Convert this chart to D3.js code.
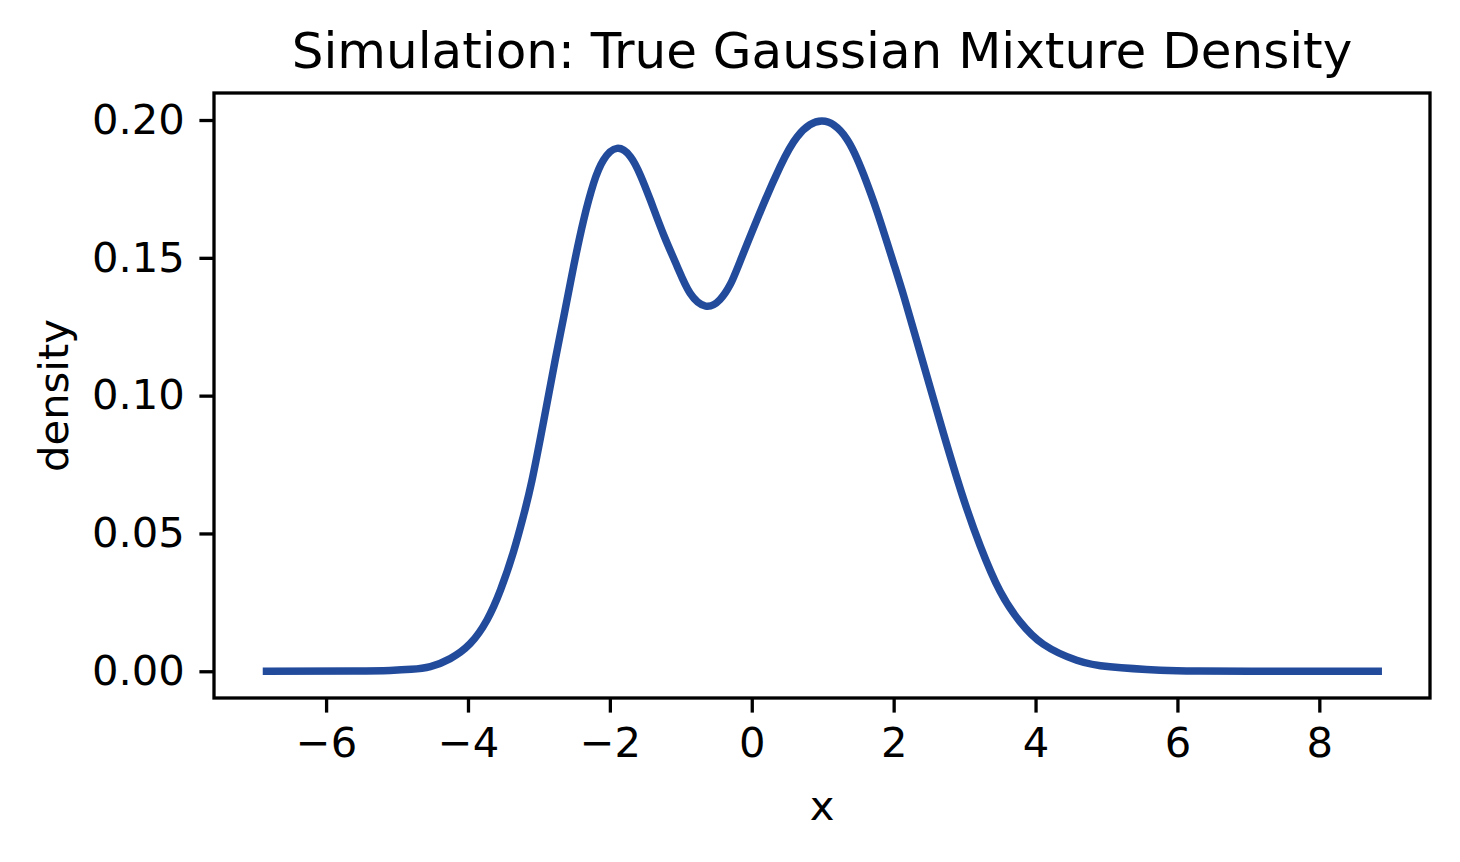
<!DOCTYPE html>
<html>
<head>
<meta charset="utf-8">
<script src="https://cdn.jsdelivr.net/npm/d3@7"></script>
<style>
  body { margin: 0; background: #fff; }
  text { font-family: "DejaVu Sans", sans-serif; fill: #000; }
</style>
</head>
<body>
<div id="chart"></div>
<script>
// ==== DATA ====
const X_VALS = [-6.84, -5.60, -5.10, -4.80, -4.53, -4.25, -3.97, -3.73, -3.54, -3.36,
  -3.22, -3.10, -2.93, -2.77, -2.65, -2.51, -2.37, -2.23, -2.09, -1.90,
  -1.71, -1.57, -1.43, -1.24, -1.05, -0.87, -0.65, -0.45, -0.30, -0.16,
  0.17, 0.40, 0.64, 0.99, 1.34, 1.58, 1.77, 2.00, 2.15, 2.33,
  2.52, 2.70, 2.96, 3.22, 3.50, 3.78, 4.11, 4.58, 5.05, 5.76,
  6.30, 7.03, 8.83];
const DENSITY = [0.0000, 0.0001, 0.0003, 0.0007, 0.0017, 0.0046, 0.0100, 0.0187, 0.0296, 0.0432,
  0.0562, 0.0690, 0.0912, 0.1130, 0.1286, 0.1470, 0.1637, 0.1770, 0.1855, 0.1897,
  0.1867, 0.1800, 0.1710, 0.1582, 0.1468, 0.1372, 0.1325, 0.1348, 0.1405, 0.1490,
  0.1698, 0.1831, 0.1939, 0.1996, 0.1931, 0.1800, 0.1665, 0.1480, 0.1355, 0.1195,
  0.1025, 0.0865, 0.0645, 0.0455, 0.0290, 0.0180, 0.0098, 0.0040, 0.0016, 0.0004,
  0.0001, 0.0000, 0.0000];
const X_TICKS = [-6, -4, -2, 0, 2, 4, 6, 8];
const Y_TICKS = [0.00, 0.05, 0.10, 0.15, 0.20];

// ==== SIZE ====
const width = 1460, height = 862;
const margin = { top: 93, right: 30, bottom: 164, left: 214 };

const x = d3.scaleLinear().domain([-7.58, 9.56]).range([margin.left, width - margin.right]);
const y = d3.scaleLinear().domain([-0.0097, 0.2098]).range([height - margin.bottom, margin.top]);

const svg = d3.select("#chart").append("svg")
  .attr("width", width)
  .attr("height", height);

const data = X_VALS.map((v, i) => ({ x: v, y: DENSITY[i] }));

// curve
const line = d3.line()
  .x(d => x(d.x))
  .y(d => y(d.y))
  .curve(d3.curveNatural);

svg.append("path")
  .datum(data)
  .attr("fill", "none")
  .attr("stroke", "#234b9b")
  .attr("stroke-width", 7.5)
  .attr("stroke-linecap", "square")
  .attr("stroke-linejoin", "round")
  .attr("d", line);

// axes
const tickLen = 14.6, tickPad = 14.6;
const gx = svg.append("g")
  .attr("transform", `translate(0,${height - margin.bottom})`)
  .call(d3.axisBottom(x).tickValues(X_TICKS).tickSize(tickLen).tickPadding(tickPad).tickFormat(d3.format("d")));
const gy = svg.append("g")
  .attr("transform", `translate(${margin.left},0)`)
  .call(d3.axisLeft(y).tickValues(Y_TICKS).tickSize(tickLen).tickPadding(tickPad).tickFormat(d3.format(".2f")));

[gx, gy].forEach(g => {
  g.select(".domain").remove();
  g.selectAll(".tick line").attr("stroke", "#000").attr("stroke-width", 3.3);
  g.selectAll(".tick text").attr("font-size", 41.7).style("font-family", "DejaVu Sans");
});

// frame
svg.append("rect")
  .attr("x", margin.left)
  .attr("y", margin.top)
  .attr("width", width - margin.left - margin.right)
  .attr("height", height - margin.top - margin.bottom)
  .attr("fill", "none")
  .attr("stroke", "#000")
  .attr("stroke-width", 3.3);

// title and labels
svg.append("text")
  .attr("x", (margin.left + width - margin.right) / 2)
  .attr("y", 68)
  .attr("text-anchor", "middle")
  .attr("font-size", 50)
  .text("Simulation: True Gaussian Mixture Density");

svg.append("text")
  .attr("x", (margin.left + width - margin.right) / 2)
  .attr("y", 820)
  .attr("text-anchor", "middle")
  .attr("font-size", 41.7)
  .text("x");

svg.append("text")
  .attr("transform", `translate(68,${(margin.top + height - margin.bottom) / 2}) rotate(-90)`)
  .attr("text-anchor", "middle")
  .attr("font-size", 41.7)
  .text("density");
</script>
</body>
</html>
